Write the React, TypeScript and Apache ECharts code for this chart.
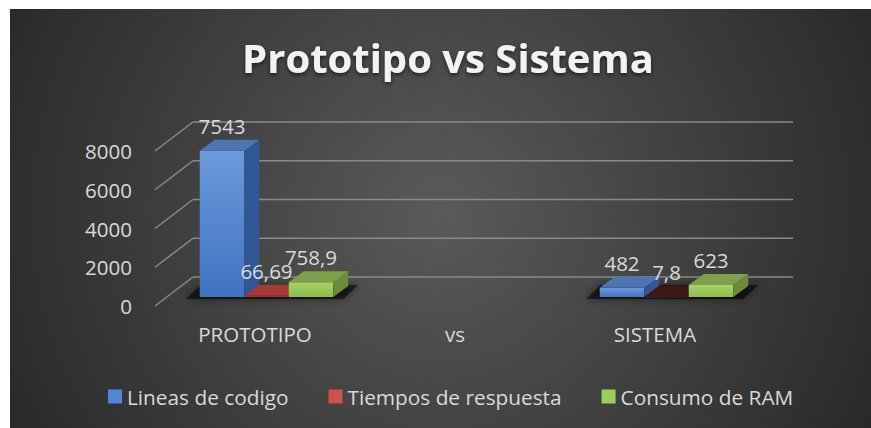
import React, { useEffect, useRef } from "react";
import * as echarts from "echarts";

const categories = ["PROTOTIPO", "vs", "SISTEMA"];
const seriesNames = ["Lineas de codigo", "Tiempos de respuesta", "Consumo de RAM"];
const lineasDeCodigo: (number | null)[] = [7543, null, 482];
const tiemposDeRespuesta: (number | null)[] = [66.69, null, 7.8];
const consumoDeRam: (number | null)[] = [758.9, null, 623];
const yTicks = [0, 2000, 4000, 6000, 8000];

const allSeries = [lineasDeCodigo, tiemposDeRespuesta, consumoDeRam];

const palette = [
  { front: ["#6d9adb", "#3f72c1"], top: "#4f75b0", side: "#2f5796", legend: "#4f86d6" },
  { front: ["#a73836", "#8f2d2b"], top: "#a23a37", side: "#7a2624", legend: "#d0504c" },
  { front: ["#a8d365", "#8dbb4d"], top: "#7f9f4d", side: "#6a8b3c", legend: "#9ccf5a" },
];

const FONT = "'Open Sans', sans-serif";
const TEXT = "#d9d9d9";
const FRONT_DX = 11.5;
const FRONT_DY = -9;
const BAR_DX = 15;
const BAR_DY = -11;
const WALL_DX = 38;
const WALL_DY = -29;
const BAR_W = 44.5;

function fmt(v: number) {
  return String(v).replace(".", ",");
}

export default function App() {
  const ref = useRef<HTMLDivElement>(null);

  useEffect(() => {
    if (!ref.current) return;
    const chart = echarts.init(ref.current, undefined, { renderer: "svg" });

    const wallSeries: any = {
      type: "custom",
      z: 1,
      silent: true,
      data: yTicks.map((v) => [0, v]),
      renderItem: (params: any, api: any) => {
        const p = api.coord([0, api.value(1)]);
        const cs = params.coordSys;
        const x0 = cs.x;
        const x1 = cs.x + cs.width;
        const style = { stroke: "#8a8a8a", lineWidth: 1.5 };
        return {
          type: "group",
          children: [
            { type: "line", shape: { x1: x0, y1: p[1], x2: x0 + WALL_DX, y2: p[1] + WALL_DY }, style },
            { type: "line", shape: { x1: x0 + WALL_DX, y1: p[1] + WALL_DY, x2: x1 + WALL_DX, y2: p[1] + WALL_DY }, style },
          ],
        };
      },
    };

    const groupCats = categories
      .map((_, i) => i)
      .filter((i) => allSeries.some((s) => s[i] != null));

    const shadowSeries: any = {
      type: "custom",
      z: 2,
      silent: true,
      data: groupCats.map((i) => [i, 0]),
      renderItem: (_params: any, api: any) => {
        const base = api.coord([api.value(0), 0]);
        const cx = base[0] + FRONT_DX;
        const x0 = cx - 1.5 * BAR_W - 14;
        const x1 = cx + 1.5 * BAR_W + 10;
        const yb = base[1] + FRONT_DY + 2;
        return {
          type: "polygon",
          shape: {
            points: [
              [x0, yb],
              [x1, yb],
              [x1 + BAR_DX, yb + BAR_DY - 3],
              [x0 + BAR_DX, yb + BAR_DY - 3],
            ],
          },
          style: { fill: "rgba(0,0,0,0.55)", shadowBlur: 8, shadowColor: "rgba(0,0,0,0.9)" },
        };
      },
    };

    const barSeries = allSeries.map((arr, s) => ({
      type: "custom",
      name: seriesNames[s],
      z: 3,
      itemStyle: { color: palette[s].legend },
      data: arr.map((v, i) => (v == null ? null : [i, v])).filter((d) => d != null),
      renderItem: (_params: any, api: any) => {
        const cat = api.value(0);
        const val = api.value(1);
        const c = api.coord([cat, val]);
        const base = api.coord([cat, 0]);
        const x0 = c[0] + FRONT_DX + (s - 1) * BAR_W - BAR_W / 2;
        const x1 = x0 + BAR_W;
        const yTop = c[1] + FRONT_DY;
        const yBot = base[1] + FRONT_DY;
        const h = yBot - yTop;
        const pal = palette[s];
        const topColor = h < 1 ? "#3d1816" : pal.top;
        return {
          type: "group",
          children: [
            {
              type: "rect",
              shape: { x: x0, y: yTop, width: BAR_W, height: Math.max(h, 0.5) },
              style: {
                fill: new echarts.graphic.LinearGradient(0, 0, 0, 1, [
                  { offset: 0, color: pal.front[0] },
                  { offset: 1, color: pal.front[1] },
                ]),
              },
            },
            {
              type: "polygon",
              shape: {
                points: [
                  [x1, yTop],
                  [x1 + BAR_DX, yTop + BAR_DY],
                  [x1 + BAR_DX, yBot + BAR_DY],
                  [x1, yBot],
                ],
              },
              style: { fill: pal.side },
            },
            {
              type: "polygon",
              shape: {
                points: [
                  [x0, yTop],
                  [x1, yTop],
                  [x1 + BAR_DX, yTop + BAR_DY],
                  [x0 + BAR_DX, yTop + BAR_DY],
                ],
              },
              style: { fill: topColor },
            },
            {
              type: "text",
              z2: 10,
              style: {
                text: fmt(val),
                x: x0 + BAR_W / 2,
                y: yTop + BAR_DY - 14,
                align: "center",
                verticalAlign: "middle",
                fill: TEXT,
                fontSize: 20.5,
                fontFamily: FONT,
              },
            },
          ],
        };
      },
    }));

    const option: any = {
      animation: false,
      backgroundColor: "transparent",
      graphic: [
        {
          type: "rect",
          z: -10,
          silent: true,
          shape: { x: 10, y: 9, width: 861, height: 419 },
          style: {
            fill: new echarts.graphic.RadialGradient(
              440,
              210,
              480,
              [
                { offset: 0, color: "#5a5a5a" },
                { offset: 1, color: "#292929" },
              ],
              true
            ),
          },
        },
      ],
      title: {
        text: "Prototipo vs Sistema",
        left: 443,
        top: 32,
        textAlign: "center",
        textStyle: {
          color: "#f2f2f2",
          fontFamily: FONT,
          fontWeight: "bold",
          fontSize: 40,
          textShadowColor: "rgba(0,0,0,0.6)",
          textShadowBlur: 4,
          textShadowOffsetY: 2,
        },
      },
      legend: {
        data: seriesNames,
        icon: "rect",
        itemWidth: 14,
        itemHeight: 14,
        itemGap: 40,
        padding: 0,
        left: 108,
        top: 386,
        textStyle: { color: TEXT, fontSize: 20.8, fontFamily: FONT },
      },
      grid: { left: 155, right: 116, top: 151, bottom: 122, containLabel: false },
      xAxis: {
        type: "category",
        data: categories,
        axisLine: { show: false },
        axisTick: { show: false },
        axisLabel: { color: TEXT, fontSize: 20.5, fontFamily: FONT, margin: 17 },
      },
      yAxis: {
        type: "value",
        min: 0,
        max: 8000,
        interval: 2000,
        axisLine: { show: false },
        axisTick: { show: false },
        splitLine: { show: false },
        axisLabel: {
          color: TEXT,
          fontSize: 20.5,
          fontFamily: FONT,
          margin: 23,
          formatter: (v: number) => String(v),
        },
      },
      series: [wallSeries, shadowSeries, ...barSeries],
    };

    chart.setOption(option);
    return () => chart.dispose();
  }, []);

  return (
    <div
      ref={ref}
      style={{ position: "absolute", left: 0, top: 0, width: 871, height: 428, background: "#ffffff" }}
    />
  );
}
